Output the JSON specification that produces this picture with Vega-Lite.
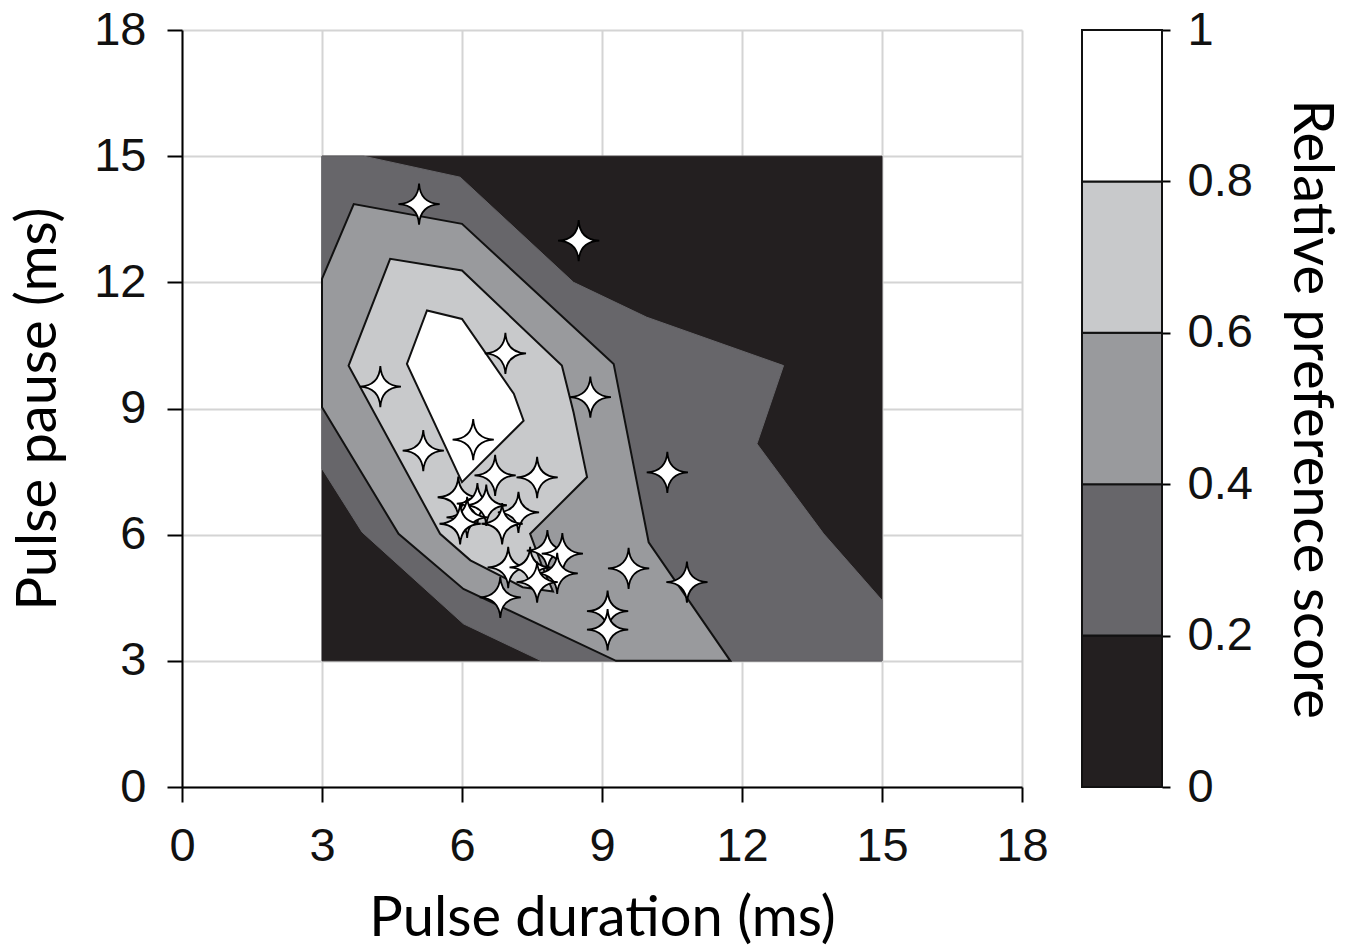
{
  "$schema": "https://vega.github.io/schema/vega-lite/v6.json",
  "background": "white",
  "padding": {"left": 10, "top": 6, "right": 0, "bottom": 0},
  "bounds": "flush",
  "spacing": 60,
  "config": {
    "view": {"stroke": null},
    "axis": {
      "labelFont": "Liberation Sans",
      "labelFontSize": 47,
      "labelColor": "#111111",
      "labelFlush": false,
      "titleFont": "Lato",
      "titleFontSize": 56,
      "titleFontWeight": "normal",
      "titleColor": "#000000",
      "domainColor": "#000000",
      "domainWidth": 2,
      "tickColor": "#000000",
      "tickWidth": 2,
      "gridColor": "#d4d4d4",
      "gridWidth": 2
    }
  },
  "datasets": {
    "contours": [
      {"level": 0, "i": 1, "x": 3, "y": 3},
      {"level": 0, "i": 2, "x": 3, "y": 15},
      {"level": 0, "i": 3, "x": 15, "y": 15},
      {"level": 0, "i": 4, "x": 15, "y": 3},

      {"level": 0.2, "i": 1, "x": 3.89, "y": 15},
      {"level": 0.2, "i": 2, "x": 5.96, "y": 14.5},
      {"level": 0.2, "i": 3, "x": 8.39, "y": 12.0},
      {"level": 0.2, "i": 4, "x": 9.96, "y": 11.17},
      {"level": 0.2, "i": 5, "x": 12.89, "y": 10.02},
      {"level": 0.2, "i": 6, "x": 12.32, "y": 8.16},
      {"level": 0.2, "i": 7, "x": 13.75, "y": 6.02},
      {"level": 0.2, "i": 8, "x": 15, "y": 4.44},
      {"level": 0.2, "i": 9, "x": 15, "y": 3},
      {"level": 0.2, "i": 10, "x": 7.7, "y": 3},
      {"level": 0.2, "i": 11, "x": 6.03, "y": 3.88},
      {"level": 0.2, "i": 12, "x": 3.86, "y": 6.06},
      {"level": 0.2, "i": 13, "x": 3, "y": 7.57},
      {"level": 0.2, "i": 14, "x": 3, "y": 15},

      {"level": 0.4, "i": 1, "x": 3, "y": 12.08},
      {"level": 0.4, "i": 2, "x": 3.68, "y": 13.86},
      {"level": 0.4, "i": 3, "x": 6.0, "y": 13.39},
      {"level": 0.4, "i": 4, "x": 9.25, "y": 10.06},
      {"level": 0.4, "i": 5, "x": 10.0, "y": 5.82},
      {"level": 0.4, "i": 6, "x": 11.75, "y": 3},
      {"level": 0.4, "i": 7, "x": 9.3, "y": 3},
      {"level": 0.4, "i": 8, "x": 6.03, "y": 4.71},
      {"level": 0.4, "i": 9, "x": 4.64, "y": 6.02},
      {"level": 0.4, "i": 10, "x": 3, "y": 9.03},

      {"level": 0.6, "i": 1, "x": 3.57, "y": 10.02},
      {"level": 0.6, "i": 2, "x": 4.46, "y": 12.56},
      {"level": 0.6, "i": 3, "x": 6.0, "y": 12.28},
      {"level": 0.6, "i": 4, "x": 8.14, "y": 10.02},
      {"level": 0.6, "i": 5, "x": 8.39, "y": 8.91},
      {"level": 0.6, "i": 6, "x": 8.68, "y": 7.37},
      {"level": 0.6, "i": 7, "x": 7.46, "y": 6.02},
      {"level": 0.6, "i": 8, "x": 7.7, "y": 5.3},
      {"level": 0.6, "i": 9, "x": 7.95, "y": 4.65},
      {"level": 0.6, "i": 10, "x": 7.3, "y": 4.75},
      {"level": 0.6, "i": 11, "x": 6.18, "y": 5.39},
      {"level": 0.6, "i": 12, "x": 5.53, "y": 6.02},

      {"level": 0.8, "i": 1, "x": 4.82, "y": 10.06},
      {"level": 0.8, "i": 2, "x": 5.25, "y": 11.33},
      {"level": 0.8, "i": 3, "x": 6.0, "y": 11.13},
      {"level": 0.8, "i": 4, "x": 7.11, "y": 9.35},
      {"level": 0.8, "i": 5, "x": 7.32, "y": 8.71},
      {"level": 0.8, "i": 6, "x": 6.0, "y": 7.25}
    ],
    "stars": [
      {"x": 5.08, "y": 13.86},
      {"x": 8.5, "y": 12.99},
      {"x": 6.93, "y": 10.31},
      {"x": 4.25, "y": 9.52},
      {"x": 8.75, "y": 9.27},
      {"x": 6.24, "y": 8.26},
      {"x": 5.17, "y": 8.0},
      {"x": 10.4, "y": 7.48},
      {"x": 6.71, "y": 7.41},
      {"x": 7.61, "y": 7.36},
      {"x": 5.92, "y": 6.89},
      {"x": 6.33, "y": 6.74},
      {"x": 6.52, "y": 6.7},
      {"x": 7.21, "y": 6.53},
      {"x": 6.11, "y": 6.41},
      {"x": 5.96, "y": 6.26},
      {"x": 6.86, "y": 6.26},
      {"x": 7.83, "y": 5.62},
      {"x": 8.15, "y": 5.55},
      {"x": 6.99, "y": 5.22},
      {"x": 7.46, "y": 5.22},
      {"x": 8.04, "y": 5.08},
      {"x": 7.61, "y": 4.87},
      {"x": 6.82, "y": 4.51},
      {"x": 9.57, "y": 5.2},
      {"x": 10.82, "y": 4.87},
      {"x": 9.12, "y": 4.18},
      {"x": 9.12, "y": 3.74}
    ],
    "bands": [
      {"lo": 0, "hi": 0.2},
      {"lo": 0.2, "hi": 0.4},
      {"lo": 0.4, "hi": 0.6},
      {"lo": 0.6, "hi": 0.8},
      {"lo": 0.8, "hi": 1}
    ]
  },
  "hconcat": [
    {
      "width": 840,
      "height": 757,
      "encoding": {
        "x": {
          "field": "x",
          "type": "quantitative",
          "scale": {"domain": [0, 18], "nice": false},
          "axis": {
            "values": [0, 3, 6, 9, 12, 15, 18],
            "title": "Pulse duration (ms)",
            "grid": true,
            "tickSize": 15,
            "labelPadding": 21,
            "titlePadding": 22
          }
        },
        "y": {
          "field": "y",
          "type": "quantitative",
          "scale": {"domain": [0, 18], "nice": false},
          "axis": {
            "values": [0, 3, 6, 9, 12, 15, 18],
            "title": "Pulse pause (ms)",
            "grid": true,
            "tickSize": 15,
            "labelPadding": 21,
            "titlePadding": 26
          }
        }
      },
      "layer": [
        {
          "data": {"name": "contours"},
          "transform": [{"filter": "datum.level == 0"}],
          "mark": {"type": "line", "interpolate": "linear-closed", "fill": "#231f20", "stroke": "#231f20", "strokeWidth": 1},
          "encoding": {"order": {"field": "i", "type": "quantitative"}}
        },
        {
          "data": {"name": "contours"},
          "transform": [{"filter": "datum.level == 0.2"}],
          "mark": {"type": "line", "interpolate": "linear-closed", "fill": "#67666a", "stroke": "#67666a", "strokeWidth": 1},
          "encoding": {"order": {"field": "i", "type": "quantitative"}}
        },
        {
          "data": {"name": "contours"},
          "transform": [{"filter": "datum.level == 0.4"}],
          "mark": {"type": "line", "interpolate": "linear-closed", "fill": "#999a9d", "stroke": "#111111", "strokeWidth": 2},
          "encoding": {"order": {"field": "i", "type": "quantitative"}}
        },
        {
          "data": {"name": "contours"},
          "transform": [{"filter": "datum.level == 0.6"}],
          "mark": {"type": "line", "interpolate": "linear-closed", "fill": "#c8c9cb", "stroke": "#111111", "strokeWidth": 2},
          "encoding": {"order": {"field": "i", "type": "quantitative"}}
        },
        {
          "data": {"name": "contours"},
          "transform": [{"filter": "datum.level == 0.8"}],
          "mark": {"type": "line", "interpolate": "linear-closed", "fill": "#ffffff", "stroke": "#111111", "strokeWidth": 2},
          "encoding": {"order": {"field": "i", "type": "quantitative"}}
        },
        {
          "data": {"values": [{}]},
          "mark": {"type": "rule", "stroke": "#000000", "strokeWidth": 2},
          "encoding": {"x": {"datum": 0}, "x2": {"datum": 18}, "y": {"datum": 18}}
        },
        {
          "data": {"values": [{}]},
          "mark": {"type": "rule", "stroke": "#000000", "strokeWidth": 2},
          "encoding": {"y": {"datum": 0}, "y2": {"datum": 18}, "x": {"datum": 18}}
        },
        {
          "data": {"name": "stars"},
          "mark": {
            "type": "point",
            "shape": "M0,-1 Q0.05,-0.05 1,0 Q0.05,0.05 0,1 Q-0.05,0.05 -1,0 Q-0.05,-0.05 0,-1 Z",
            "size": 1700,
            "filled": true,
            "fill": "#ffffff",
            "fillOpacity": 1,
            "opacity": 1,
            "stroke": "#000000",
            "strokeWidth": 1.8
          }
        }
      ]
    },
    {
      "width": 80,
      "height": 757,
      "data": {"name": "bands"},
      "mark": {"type": "rect", "stroke": "#111111", "strokeWidth": 2},
      "encoding": {
        "y": {
          "field": "lo",
          "type": "quantitative",
          "scale": {"domain": [0, 1], "nice": false},
          "axis": {
            "orient": "right",
            "values": [0, 0.2, 0.4, 0.6, 0.8, 1],
            "format": "~g",
            "title": "Relative preference score",
            "grid": false,
            "domain": false,
            "tickSize": 8,
            "labelPadding": 17,
            "titlePadding": 29
          }
        },
        "y2": {"field": "hi"},
        "color": {
          "field": "lo",
          "type": "ordinal",
          "scale": {"domain": [0, 0.2, 0.4, 0.6, 0.8], "range": ["#231f20", "#67666a", "#999a9d", "#c8c9cb", "#ffffff"]},
          "legend": null
        }
      }
    }
  ]
}
